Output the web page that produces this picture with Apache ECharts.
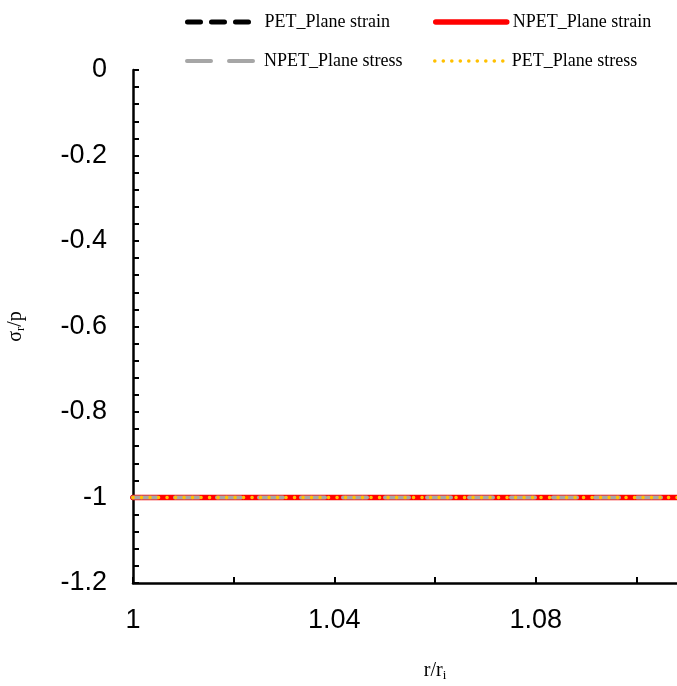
<!DOCTYPE html>
<html>
<head>
<meta charset="utf-8">
<script src="https://cdn.jsdelivr.net/npm/echarts@6/dist/echarts.min.js"></script>
<style>
  html, body { margin: 0; padding: 0; background: #fff; }
  #chart { width: 677px; height: 686px; }
</style>
</head>
<body>
<div id="chart"></div>
<script>
// Normalised radius r/ri
const radius = [1.00, 1.01, 1.02, 1.03, 1.04, 1.05, 1.06, 1.07, 1.08, 1.09, 1.10, 1.11, 1.12];

// Normalised radial stress sigma_r / p for each case
const petPlaneStrain   = [-1, -1, -1, -1, -1, -1, -1, -1, -1, -1, -1, -1, -1];
const npetPlaneStrain  = [-1, -1, -1, -1, -1, -1, -1, -1, -1, -1, -1, -1, -1];
const npetPlaneStress  = [-1, -1, -1, -1, -1, -1, -1, -1, -1, -1, -1, -1, -1];
const petPlaneStress   = [-1, -1, -1, -1, -1, -1, -1, -1, -1, -1, -1, -1, -1];

const seriesNames = ['PET_Plane strain', 'NPET_Plane strain', 'NPET_Plane stress', 'PET_Plane stress'];

// Axis ticks and labels
const xTickValues = [1.00, 1.02, 1.04, 1.06, 1.08, 1.10, 1.12];
const xLabelValues = [1.00, 1.04, 1.08];

const pair = (ys) => radius.map((r, i) => [r, ys[i]]);

const serif = 'Liberation Serif';
const sans = 'Liberation Sans';

// Line styles shared by the series and their legend entries
const styles = [
  { color: '#000000', width: 5,   type: [13, 11], cap: 'round' },
  { color: '#ff0000', width: 5.5, type: 'solid', cap: 'round' },
  { color: '#a6a6a6', width: 4,   type: [24, 18], cap: 'round' },
  { color: '#ffc000', width: 3.5, type: [0.1, 8.4], cap: 'round' }
];

const legendAt = (i, left, top) => ({
  data: [seriesNames[i]],
  left: left,
  top: top,
  orient: 'horizontal',
  itemWidth: 71,
  itemHeight: 14,
  itemGap: 0,
  padding: 0,
  itemStyle: { opacity: 0 },
  lineStyle: Object.assign({}, styles[i]),
  textStyle: { fontFamily: serif, fontSize: 18, color: '#000', padding: [0, 0, 0, 1] },
  inactiveColor: '#000'
});

const chart = echarts.init(document.getElementById('chart'), null, { renderer: 'canvas' });

chart.setOption({
  backgroundColor: '#fff',
  animation: false,
  legend: [
    legendAt(0, 185, 13),
    legendAt(1, 433, 13),
    legendAt(2, 185, 52),
    legendAt(3, 433, 52)
  ],
  grid: { left: 133, top: 70, width: 604, height: 513, containLabel: false, outerBoundsMode: 'none' },
  xAxis: {
    type: 'value',
    min: 1.00,
    max: 1.12,
    interval: 0.02,
    name: '{n|r/r}{s|i}',
    nameLocation: 'middle',
    nameGap: 76,
    nameTextStyle: {
      rich: {
        n: { fontFamily: serif, fontSize: 20, color: '#000' },
        s: { fontFamily: serif, fontSize: 13, color: '#000', verticalAlign: 'bottom', padding: [10, 0, 0, 0] }
      }
    },
    axisLine: { show: true, onZero: false, lineStyle: { color: '#000', width: 2.5 } },
    axisTick: { show: true, inside: true, length: 6, lineStyle: { color: '#000', width: 2 }, customValues: xTickValues },
    axisLabel: {
      show: true, margin: 24, fontFamily: sans, fontSize: 27, color: '#000',
      customValues: xLabelValues,
      formatter: (v) => String(Math.round(v * 100) / 100)
    },
    splitLine: { show: false }
  },
  yAxis: {
    type: 'value',
    min: -1.2,
    max: 0,
    interval: 0.2,
    name: '{n|σ}{s|r}{n|/p}',
    nameLocation: 'middle',
    nameGap: 106,
    nameTextStyle: {
      rich: {
        n: { fontFamily: serif, fontSize: 20, color: '#000' },
        s: { fontFamily: serif, fontSize: 13, color: '#000', verticalAlign: 'bottom', padding: [10, 0, 0, 0] }
      }
    },
    axisLine: { show: true, onZero: false, lineStyle: { color: '#000', width: 2.5 } },
    axisTick: { show: true, inside: true, length: 6, lineStyle: { color: '#000', width: 2 } },
    minorTick: { show: true, splitNumber: 5, length: 6, lineStyle: { color: '#000', width: 2 } },
    axisLabel: {
      show: true, margin: 26, fontFamily: sans, fontSize: 27, color: '#000',
      formatter: (v) => String(Math.round(v * 10) / 10)
    },
    splitLine: { show: false },
    minorSplitLine: { show: false }
  },
  series: [petPlaneStrain, npetPlaneStrain, npetPlaneStress, petPlaneStress].map((ys, i) => ({
    name: seriesNames[i],
    type: 'line',
    data: pair(ys),
    symbol: 'none',
    z: 2 + i,
    lineStyle: styles[i],
    itemStyle: { color: styles[i].color }
  }))
});
</script>
</body>
</html>
